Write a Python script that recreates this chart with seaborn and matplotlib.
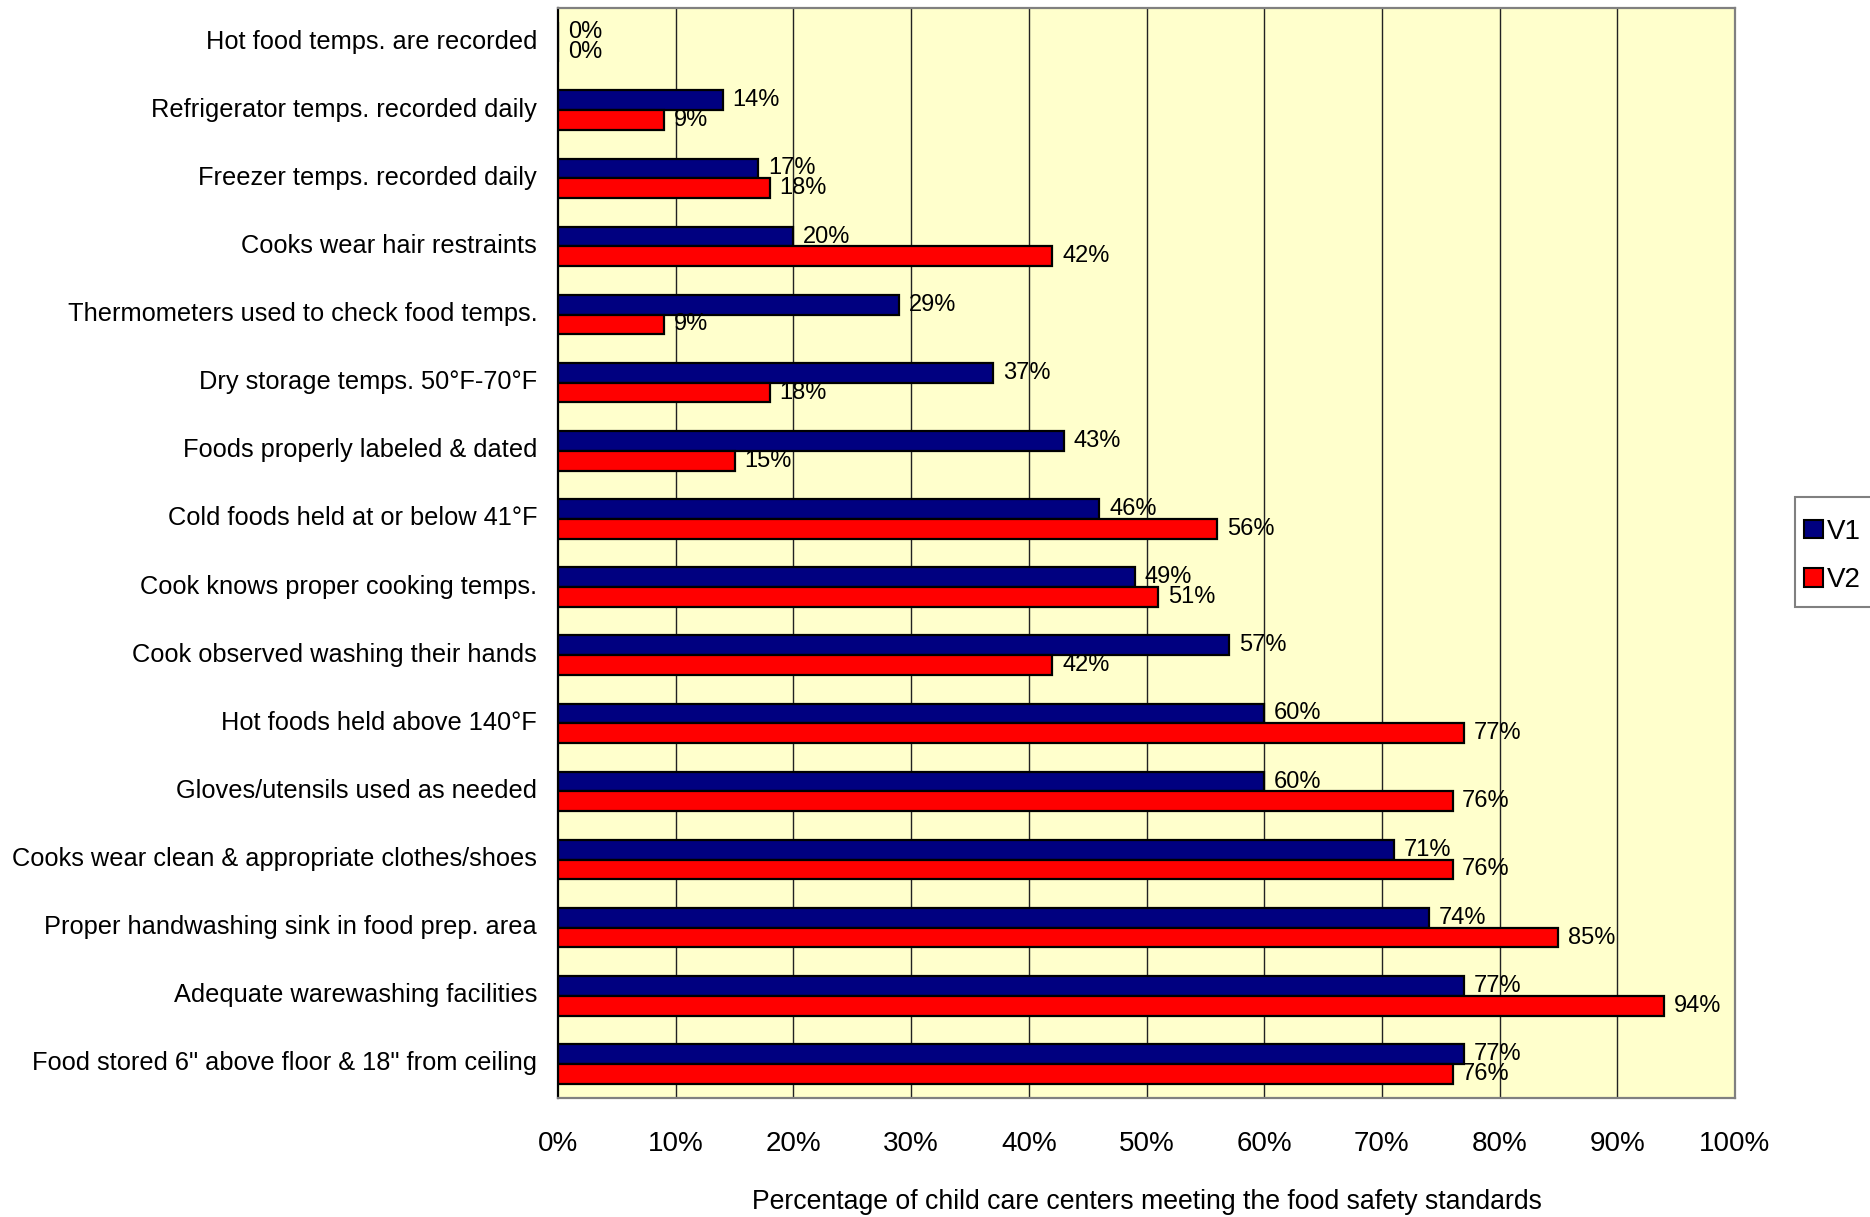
import matplotlib
matplotlib.use("Agg")
import matplotlib.pyplot as plt
import matplotlib.patches as mpatches
import matplotlib.transforms as mtransforms
import numpy as np
import pandas as pd
import seaborn as sns

standards = [
    "Hot food temps. are recorded",
    "Refrigerator temps. recorded daily",
    "Freezer temps. recorded daily",
    "Cooks wear hair restraints",
    "Thermometers used to check food temps.",
    "Dry storage temps. 50°F-70°F",
    "Foods properly labeled & dated",
    "Cold foods held at or below 41°F",
    "Cook knows proper cooking temps.",
    "Cook observed washing their hands",
    "Hot foods held above 140°F",
    "Gloves/utensils used as needed",
    "Cooks wear clean & appropriate clothes/shoes",
    "Proper handwashing sink in food prep. area",
    "Adequate warewashing facilities",
    "Food stored 6\" above floor & 18\" from ceiling",
]
v1 = [0, 14, 17, 20, 29, 37, 43, 46, 49, 57, 60, 60, 71, 74, 77, 77]
v2 = [0, 9, 18, 42, 9, 18, 15, 56, 51, 42, 77, 76, 76, 85, 94, 76]
series = ["V1", "V2"]
colors = {"V1": "#000080", "V2": "#FF0000"}
x_ticks = list(range(0, 101, 10))

df = pd.DataFrame({
    "Standard": standards * 2,
    "Percent": v1 + v2,
    "Series": ["V1"] * len(standards) + ["V2"] * len(standards),
})

sns.set_style("white")
plt.rcParams["font.family"] = ["Liberation Sans", "DejaVu Sans"]
plt.rcParams["text.color"] = "black"
plt.rcParams["axes.labelcolor"] = "black"
plt.rcParams["xtick.labelcolor"] = "black"
plt.rcParams["ytick.labelcolor"] = "black"

W, H = 1870, 1217
fig = plt.figure(figsize=(W / 100, H / 100), dpi=100)
ax = fig.add_axes([558 / W, 1 - 1098 / H, (1735 - 558) / W, (1098 - 8) / H])
ax.set_facecolor("#FFFFCC")

sns.barplot(data=df, y="Standard", x="Percent", hue="Series", hue_order=series,
            order=standards, orient="h", palette=colors, saturation=1, width=0.58,
            edgecolor="black", linewidth=1.6, errorbar=None, legend=False,
            zorder=3, ax=ax)

for cont, vals in zip(ax.containers, [v1, v2]):
    ax.bar_label(cont, labels=[f"{v}%" for v in vals], padding=7,
                 fontsize=17, color="black", zorder=4)

ax.set_xlim(0, 100)
ax.set_ylim(len(standards) - 0.5, -0.5)
ax.set_xticks(x_ticks)
ax.set_xticklabels([f"{t}%" for t in x_ticks], fontsize=20)
ax.tick_params(axis="x", length=7, width=1.2, color="#555555", pad=17, direction="out")
ax.tick_params(axis="y", which="major", length=0, pad=15, labelsize=18.3)
ax.set_yticks(np.arange(-0.5, len(standards), 1.0), minor=True)
ax.tick_params(axis="y", which="minor", length=7, width=1.2, color="black", direction="out")

# nudge category labels slightly upward
lift = mtransforms.ScaledTranslation(0, 3 / 100, fig.dpi_scale_trans)
for lbl in ax.get_yticklabels():
    lbl.set_transform(lbl.get_transform() + lift)

for t in x_ticks[1:-1]:
    ax.axvline(t, color="#222222", lw=1.0, zorder=1)

for side in ["top", "right", "bottom"]:
    ax.spines[side].set_visible(True)
    ax.spines[side].set_color("#808080")
    ax.spines[side].set_linewidth(1.6)
ax.spines["left"].set_color("black")
ax.spines["left"].set_linewidth(1.6)

ax.set_ylabel("")
ax.set_xlabel("Percentage of child care centers meeting the food safety standards",
              fontsize=19.2, labelpad=23)

# legend box running off the right edge of the figure
fig.patches.append(mpatches.Rectangle((1795 / W, 1 - 607 / H), 100 / W, 110 / H,
                                      transform=fig.transFigure, facecolor="white",
                                      edgecolor="#808080", linewidth=1.5, zorder=0))
handles = [mpatches.Patch(facecolor=colors[s], edgecolor="black", linewidth=1.5, label=s)
           for s in series]
fig.legend(handles=handles, loc="center left", bbox_to_anchor=(1804 / W, 1 - 556 / H),
           bbox_transform=fig.transFigure, frameon=False, fontsize=20,
           handlelength=0.68, handleheight=0.65, handletextpad=0.15,
           labelspacing=0.8, borderpad=0, borderaxespad=0)

fig.savefig("out.png", dpi=100, facecolor="white")
